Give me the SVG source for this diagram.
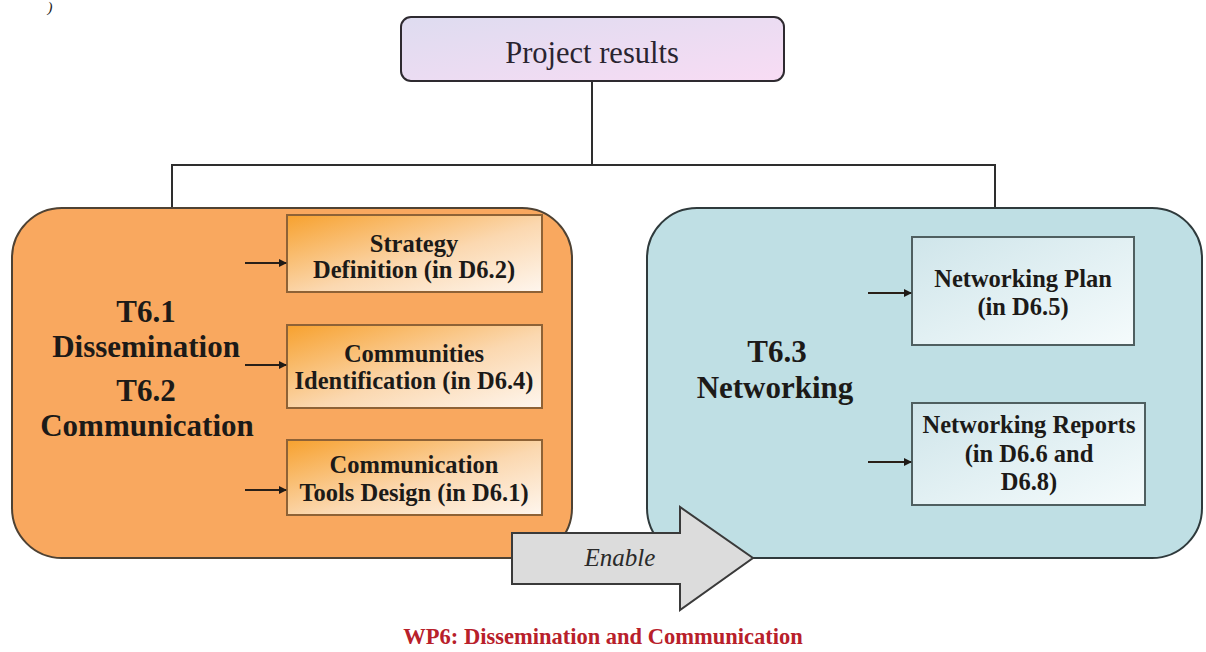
<svg xmlns="http://www.w3.org/2000/svg" width="1206" height="652" viewBox="0 0 1206 652">
  <defs>
    <linearGradient id="gResults" x1="0" y1="0" x2="1" y2="1">
      <stop offset="0" stop-color="#dedcf0"/>
      <stop offset="1" stop-color="#f8dcf4"/>
    </linearGradient>
    <linearGradient id="gOrange" x1="0" y1="0" x2="1" y2="1">
      <stop offset="0" stop-color="#f7a12e"/>
      <stop offset="0.55" stop-color="#fbd8b0"/>
      <stop offset="1" stop-color="#fef6ee"/>
    </linearGradient>
    <linearGradient id="gBlue" x1="0" y1="0" x2="1" y2="1">
      <stop offset="0" stop-color="#cfe5ea"/>
      <stop offset="1" stop-color="#f5fbfc"/>
    </linearGradient>
    <marker id="head" markerWidth="8" markerHeight="8" refX="7" refY="4" orient="auto" markerUnits="userSpaceOnUse">
      <path d="M0,0 L8,4 L0,8 Z" fill="#1e1a16"/>
    </marker>
    <style>
      .lbl { font-family: "Liberation Serif", "Times New Roman", serif; text-anchor: middle; }
      .dark { fill: #1c1a18; }
      .big { font-size: 31px; font-weight: bold; fill: #1c1a18; }
      .box { font-size: 24.5px; font-weight: bold; fill: #1c1a18; }
      .link { fill: none; stroke: #2e2e2e; stroke-width: 2; }
      .feed { fill: none; stroke: #2a2018; stroke-width: 2.2; marker-end: url(#head); }
      .sub-o { fill: url(#gOrange); stroke: #8e6236; stroke-width: 2; }
      .sub-b { fill: url(#gBlue); stroke: #4f5f60; stroke-width: 2; }
    </style>
  </defs>

  <rect width="1206" height="652" fill="#ffffff"/>

  <!-- stray glyph at top edge -->
  <text x="50" y="12" class="lbl dark" font-size="15" font-style="italic">)</text>

  <!-- tree connectors -->
  <g id="connectors">
    <path class="link" d="M592,81 V165"/>
    <path class="link" d="M172,208 V165 H995 V208"/>
  </g>

  <g id="results">
    <rect x="401" y="17" width="383" height="64" rx="10" fill="url(#gResults)" stroke="#2e2a30" stroke-width="2"/>
    <text x="592" y="63" class="lbl" font-size="30.5" fill="#2a2430">Project results</text>
  </g>

  <!-- dissemination / communication block -->
  <g id="t61-t62">
    <rect x="12" y="208" width="560" height="350" rx="50" fill="#f9a85f" stroke="#4e4234" stroke-width="2"/>
    <text class="lbl big" x="146" y="322">T6.1</text>
    <text class="lbl big" x="146" y="357">Dissemination</text>
    <text class="lbl big" x="146" y="401">T6.2</text>
    <text class="lbl big" x="147" y="436">Communication</text>
  </g>

  <g id="strategy">
    <rect class="sub-o" x="287" y="215" width="255" height="77"/>
    <text class="lbl box" x="414" y="252">Strategy</text>
    <text class="lbl box" x="414" y="278">Definition (in D6.2)</text>
  </g>
  <g id="communities">
    <rect class="sub-o" x="287" y="325" width="255" height="83"/>
    <text class="lbl box" x="414" y="362">Communities</text>
    <text class="lbl box" x="414" y="389">Identification (in D6.4)</text>
  </g>
  <g id="tools">
    <rect class="sub-o" x="287" y="440" width="255" height="75"/>
    <text class="lbl box" x="414" y="473">Communication</text>
    <text class="lbl box" x="414" y="501">Tools Design (in D6.1)</text>
  </g>

  <!-- networking block -->
  <g id="t63">
    <rect x="647" y="208" width="555" height="350" rx="50" fill="#bfdfe4" stroke="#2f3a3c" stroke-width="2"/>
    <text class="lbl big" x="777" y="362">T6.3</text>
    <text class="lbl big" x="775" y="398">Networking</text>
  </g>

  <g id="plan">
    <rect class="sub-b" x="912" y="237" width="222" height="108"/>
    <text class="lbl box" x="1023" y="287">Networking Plan</text>
    <text class="lbl box" x="1023" y="315">(in D6.5)</text>
  </g>
  <g id="reports">
    <rect class="sub-b" x="912" y="403" width="233" height="102"/>
    <text class="lbl box" x="1029" y="433">Networking Reports</text>
    <text class="lbl box" x="1029" y="462">(in D6.6 and</text>
    <text class="lbl box" x="1029" y="490">D6.8)</text>
  </g>

  <!-- inputs into each deliverable -->
  <g id="feeds">
    <path class="feed" d="M245,263 H286"/>
    <path class="feed" d="M245,365 H286"/>
    <path class="feed" d="M245,490 H286"/>
    <path class="feed" d="M868,293 H911"/>
    <path class="feed" d="M868,462 H911"/>
  </g>

  <!-- enabling arrow between blocks -->
  <g id="enable">
    <polygon points="512,533 680,533 680,507 753,558 680,610 680,584 512,584" fill="#dcdcdc" stroke="#3a3a3a" stroke-width="2"/>
    <text class="lbl" x="620" y="566" font-size="25" font-style="italic" fill="#2a2a2a">Enable</text>
  </g>

  <text class="lbl" x="603" y="644" font-size="22.5" font-weight="bold" fill="#b8202a">WP6: Dissemination and Communication</text>
</svg>
